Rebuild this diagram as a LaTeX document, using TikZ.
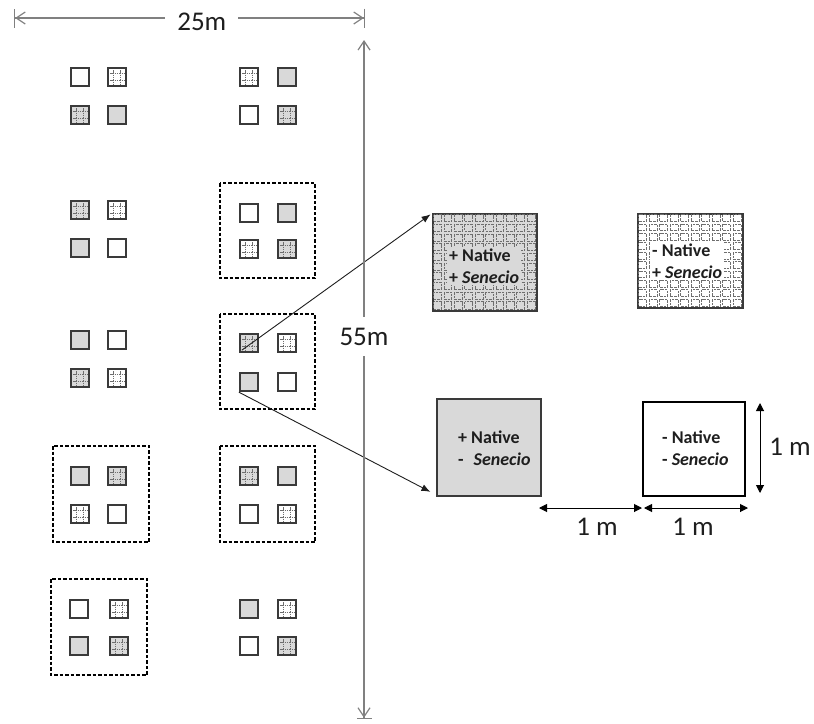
\documentclass[tikz,border=0pt]{standalone}
\usepackage{fontspec}
\setmainfont{Carlito}
\usetikzlibrary{arrows.meta,calc}
\definecolor{fillg}{HTML}{D9D9D9}
\definecolor{bord}{HTML}{3A3A3A}
\definecolor{dimc}{HTML}{808080}
\definecolor{gridc}{HTML}{6E6E6E}
\definecolor{txt}{HTML}{1E1E1E}
\newcommand\plotquad[9]{%
  \node[#6] (#1tl) at (#2,#4) {};
  \node[#7] (#1tr) at (#3,#4) {};
  \node[#8] (#1bl) at (#2,#5) {};
  \node[#9] (#1br) at (#3,#5) {};}
\begin{document}
\begin{tikzpicture}[x=1pt,y=-1pt,
  sq/.style={rectangle, draw=bord, line width=1.8pt, minimum size=18.5pt, inner sep=0pt},
  smallgrid/.style={draw=gridc, line width=0.7pt, dash pattern=on 1.5pt off 0.8pt},
  hashlines/.style={path picture={
    \draw[smallgrid] ([xshift=6pt]path picture bounding box.north west) -- ([xshift=6pt]path picture bounding box.south west);
    \draw[smallgrid] ([xshift=-6pt]path picture bounding box.north east) -- ([xshift=-6pt]path picture bounding box.south east);
    \draw[smallgrid] ([yshift=-6pt]path picture bounding box.north west) -- ([yshift=-6pt]path picture bounding box.north east);
    \draw[smallgrid] ([yshift=6pt]path picture bounding box.south west) -- ([yshift=6pt]path picture bounding box.south east);}},
  pW/.style={sq, fill=white},
  pG/.style={sq, fill=fillg},
  pGW/.style={sq, fill=white, hashlines},
  pGG/.style={sq, fill=fillg, hashlines},
  dashbox/.style={draw=black, line width=1.4pt, dash pattern=on 3.5pt off 2pt},
  bigbox/.style={rectangle, draw=bord, line width=1.6pt, inner sep=0pt},
  cellln/.style={draw=gridc, line width=0.7pt, dash pattern=on 2.6pt off 1pt},
  lbl/.style={font=\fontsize{18}{21.5}\selectfont\bfseries, text=txt, align=left, inner sep=2pt, anchor=west},
  dimln/.style={draw=dimc, line width=1.2pt},
  dimlbl/.style={fill=white, font=\fontsize{27}{32}\selectfont, text=txt, inner xsep=12pt, inner ysep=11pt},
  onem/.style={draw=black, line width=1pt, {Triangle[length=8pt,width=8pt]}-{Triangle[length=8pt,width=8pt]}},
  onelbl/.style={font=\fontsize{27}{32}\selectfont, text=txt, inner sep=0pt},
  conn/.style={draw=txt, line width=0.9pt, -{Latex[length=9pt,width=7pt]}, shorten >=2pt}
]
\useasboundingbox (0,0) rectangle (814,723);

% plots
\plotquad{rAa}{80}{117}{77}{115}{pW}{pGW}{pGG}{pG}
\plotquad{rAb}{249}{287}{77}{115}{pGW}{pG}{pW}{pGG}
\plotquad{rBa}{80}{117}{210}{248}{pGG}{pGW}{pG}{pW}
\plotquad{rBb}{249}{287}{213}{249}{pW}{pG}{pGW}{pGG}
\plotquad{rCa}{80}{117}{340}{378}{pG}{pW}{pGG}{pGW}
\plotquad{rCb}{249}{287}{343}{382}{pGG}{pGW}{pG}{pW}
\plotquad{rDa}{80}{117}{476}{514}{pG}{pGG}{pGW}{pW}
\plotquad{rDb}{249}{287}{476}{514}{pGG}{pG}{pW}{pGW}
\plotquad{rEa}{79}{119}{609}{646}{pW}{pGW}{pG}{pGG}
\plotquad{rEb}{249}{287}{609}{646}{pG}{pGW}{pW}{pGG}

% dashed enclosures
\draw[dashbox] (220,183) rectangle (315,278);
\draw[dashbox] (220,314) rectangle (315,409);
\draw[dashbox] (53,446) rectangle (149,542);
\draw[dashbox] (220,446) rectangle (315,542);
\draw[dashbox] (51,579) rectangle (147,675);

% big squares
\node[bigbox, fill=fillg, minimum width=104pt, minimum height=97pt] (bigA) at (485,262.5) {};
\node[bigbox, fill=white, minimum width=105pt, minimum height=94pt] (bigB) at (690.5,261) {};
\node[bigbox, fill=fillg, minimum width=104pt, minimum height=97pt] (bigC) at (489,447.5) {};
\node[bigbox, draw=black, fill=white, line width=1.8pt, minimum width=102pt, minimum height=94pt] (bigD) at (694,449) {};

\foreach \i in {0,...,9}{\foreach \j in {0,...,9}{
  \draw[cellln] ($(bigA.north west)+(\i*10.4+1.3,\j*9.7+1.3)$) rectangle ++(7.8,7.1);
  \draw[cellln] ($(bigB.north west)+(\i*10.5+1.3,\j*9.4+1.3)$) rectangle ++(7.9,6.8);
}}

\node[lbl, fill=fillg] (tA) at (447,266) {+ Native\\+ \textit{Senecio}};
\node[lbl, fill=white] (tB) at (650,261) {- Native\\+ \textit{Senecio}};
\node[lbl] (tC) at (456,448) {+ Native\\-\hspace{10pt}\textit{Senecio}};
\node[lbl] (tD) at (660,448) {- Native\\- \textit{Senecio}};

% connectors
\draw[conn] ([shift={(3pt,3pt)}]rCbtl.south west) -- (bigA.north west);
\draw[conn] (rCbbl.south west) -- ([shift={(-4pt,4pt)}]bigC.south west);

% dimensions
\coordinate (d25a) at (14,18);
\coordinate (d25b) at (365,18);
\draw[dimln, {Bar[width=19pt,sep=0pt]Straight Barb[length=9pt,width=12pt,sep=0pt]}-{Straight Barb[length=9pt,width=12pt,sep=0pt]Bar[width=19pt,sep=0pt]}]
  (d25a) -- (d25b) node[dimlbl, pos=0.535, yshift=-4pt] (l25) {25m};
\coordinate (d55a) at (364,40);
\coordinate (d55b) at (364,719);
\draw[dimln, {Straight Barb[length=9pt,width=12pt]}-{Straight Barb[length=9pt,width=12pt,sep=0pt]Bar[width=15pt,sep=0pt]}]
  (d55a) -- (d55b) node[dimlbl, pos=0.437] (l55) {55m};

\coordinate (m1a) at (539,508);
\coordinate (m1b) at (642,508);
\coordinate (m2a) at (644,508);
\coordinate (m2b) at (748,508);
\coordinate (v1a) at (760,403);
\coordinate (v1b) at (760,493);
\draw[onem] (m1a) -- (m1b);
\draw[onem] (m2a) -- (m2b);
\draw[onem] (v1a) -- (v1b);
\node[onelbl] (l1a) at (597,527) {1 m};
\node[onelbl] (l1b) at (693,527) {1 m};
\node[onelbl] (l1c) at (790,447) {1 m};
\end{tikzpicture}
\end{document}
